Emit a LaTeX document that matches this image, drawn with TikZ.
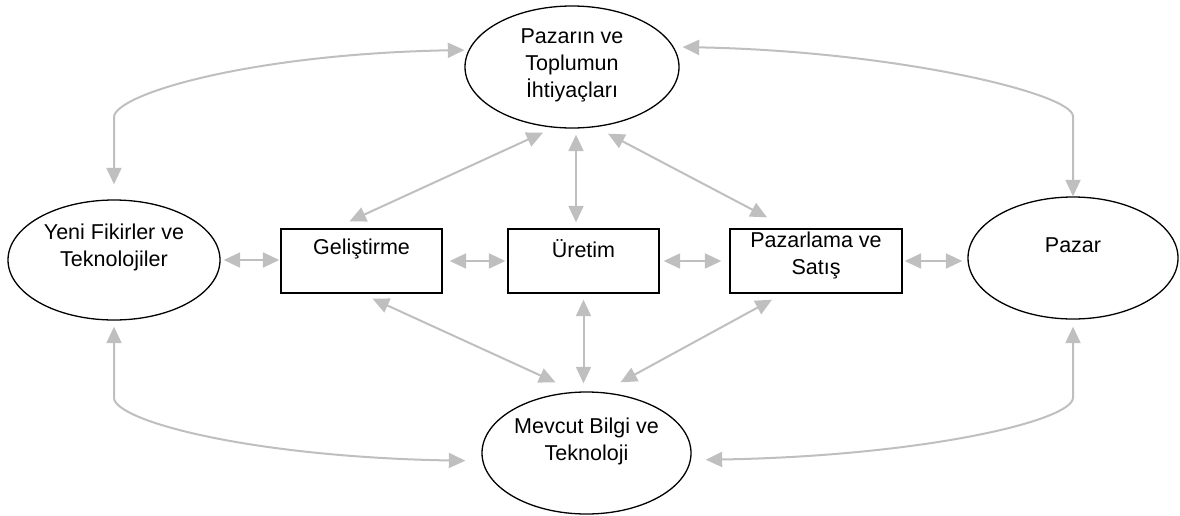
\documentclass[tikz,border=0pt]{standalone}
\usepackage{fontspec}
\setmainfont{Liberation Sans}
\usetikzlibrary{arrows.meta,shapes.geometric,calc}

\tikzset{
  oval/.style={ellipse,draw,line width=1.3pt,inner sep=0pt},
  kutu/.style={rectangle,draw,line width=1.3pt,minimum height=64pt,inner sep=0pt},
  yazi/.style={font=\fontsize{21.5}{27}\selectfont,align=center,inner sep=0pt},
  metin/.style 2 args={label={[yazi,yshift=#1]center:#2}},
  ok/.style={<->,draw=gray!50,line width=2pt},
}

\begin{document}
\begin{tikzpicture}[x=1pt,y=-1pt,>={Triangle[length=16.5pt,width=15pt]}]
  \useasboundingbox (0,0) rectangle (1180,515);
  % elipsler
  \node[oval,minimum width=214pt,minimum height=122pt,metin={2pt}{Pazarın ve\\Toplumun\\İhtiyaçları}] (ihtiyac) at (572,67) {};
  \node[oval,minimum width=212pt,minimum height=120pt,metin={13pt}{Yeni Fikirler ve\\Teknolojiler}] (yeni) at (114,260) {};
  \node[oval,minimum width=210pt,minimum height=122pt,metin={13pt}{Pazar}] (pazar) at (1073,258) {};
  \node[oval,minimum width=209pt,minimum height=122pt,metin={12pt}{Mevcut Bilgi ve\\Teknoloji}] (bilgi) at (586.5,453) {};
  % kutular
  \node[kutu,minimum width=161pt,metin={12pt}{Geliştirme}] (gelistirme) at (361.5,261) {};
  \node[kutu,minimum width=151pt,metin={12pt}{Üretim}] (uretim) at (583.5,261) {};
  \node[kutu,minimum width=172pt,metin={6pt}{Pazarlama ve\\Satış}] (pazarlama) at (816,261) {};
  % yatay oklar
  \draw[ok,shorten <=3pt,shorten >=1pt] (yeni.east) -- (yeni.east -| gelistirme.west);
  \draw[ok,shorten <=7pt,shorten >=2pt] (gelistirme.east) -- (uretim.west);
  \draw[ok,shorten <=4pt,shorten >=8pt] (uretim.east) -- (pazarlama.west);
  \draw[ok,shorten <=2pt,shorten >=5pt] (pazarlama.east) -- (pazarlama.east -| pazar.west);
  % ihtiyaclardan kutulara
  \draw[ok] ($(ihtiyac.south)+(-29,4)$) -- ($(gelistirme.north)+(-12,-7)$);
  \draw[ok,shorten <=6pt,shorten >=6pt] ($(ihtiyac.south)+(4,0)$) -- ($(ihtiyac.south |- uretim.north)+(4,0)$);
  \draw[ok] ($(ihtiyac.south)+(36,5)$) -- ($(pazarlama.north)+(-49,-11)$);
  % kutulardan bilgiye
  \draw[ok] ($(gelistirme.south)+(11,5)$) -- ($(bilgi.north)+(-31,-9)$);
  \draw[ok,shorten <=6pt,shorten >=8pt] (uretim.south) -- (uretim.south |- bilgi.north);
  \draw[ok] ($(pazarlama.south)+(-44,6)$) -- ($(bilgi.north)+(34,-9)$);
  % dis egriler
  \draw[ok,shorten >=15pt] ($(ihtiyac.west)+(0,-17)$) .. controls +(-215,4) and +(0,-23) .. ($(yeni.north)+(0,-82)$) -- (yeni.north);
  \draw[ok,shorten <=3pt] ($(ihtiyac.east)+(0,-20)$) .. controls +(215,4) and +(0,-23) .. ($(pazar.north)+(0,-80)$) -- (pazar.north);
  \draw[ok,shorten <=6pt,shorten >=16pt] (yeni.south) -- ($(yeni.south)+(0,77)$) .. controls +(0,23) and +(-232,-4) .. ($(bilgi.west)+(0,8)$);
  \draw[ok,shorten <=7pt,shorten >=14pt] (pazar.south) -- ($(pazar.south)+(0,78)$) .. controls +(0,23) and +(232,-4) .. ($(bilgi.east)+(0,7)$);
\end{tikzpicture}
\end{document}
